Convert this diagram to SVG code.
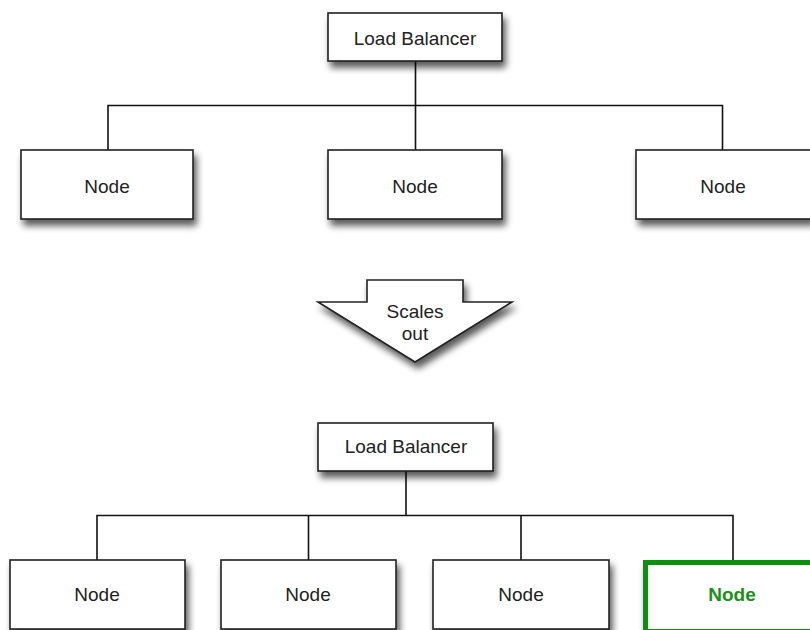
<svg xmlns="http://www.w3.org/2000/svg" width="810" height="630" viewBox="0 0 810 630">
<defs>
<filter id="sh" x="-20%" y="-20%" width="150%" height="170%">
<feGaussianBlur in="SourceAlpha" stdDeviation="3.5"/>
<feOffset dx="3" dy="6" result="b"/>
<feComponentTransfer><feFuncA type="linear" slope="0.65"/></feComponentTransfer>
<feMerge><feMergeNode/><feMergeNode in="SourceGraphic"/></feMerge>
</filter>
<style>
.box{fill:#fff;stroke:#222;stroke-width:1.6;filter:url(#sh)}
.gbox{fill:#fff;stroke:#0a8f0a;stroke-width:5;filter:url(#sh)}
.lbl{font-family:"Liberation Sans",Arial,sans-serif;font-size:19px;fill:#222;text-anchor:middle}
.glbl{font-family:"Liberation Sans",Arial,sans-serif;font-size:19px;font-weight:bold;fill:#1a8f1a;text-anchor:middle}
.ln{fill:none;stroke:#111;stroke-width:1.6}
</style>
</defs>
<rect width="810" height="630" fill="#fff"/>
<g id="connectors">
<path class="ln" d="M415.5 61V105.5M108 150V105.5H722.5V150M415.5 105.5V150"/>
<path class="ln" d="M406 471V515.5M97 560V515.5H733V560M308.5 515.5V560M521 515.5V560"/>
</g>
<g id="lb-top"><rect class="box" x="328" y="13" width="174" height="48"/><text class="lbl" x="415" y="45">Load Balancer</text></g>
<g id="node-top-1"><rect class="box" x="21" y="150" width="172" height="69"/><text class="lbl" x="107" y="193">Node</text></g>
<g id="node-top-2"><rect class="box" x="328" y="150" width="174" height="69"/><text class="lbl" x="415" y="193">Node</text></g>
<g id="node-top-3"><rect class="box" x="636" y="150" width="176" height="69"/><text class="lbl" x="723" y="193">Node</text></g>
<g id="scales-out"><polygon class="box" points="367,280 463,280 463,302 512,302 415,362 318,302 367,302"/><text class="lbl" x="415" y="318">Scales</text><text class="lbl" x="415" y="340">out</text></g>
<g id="lb-bottom"><rect class="box" x="318" y="423" width="175" height="48"/><text class="lbl" x="406" y="453">Load Balancer</text></g>
<g id="node-bot-1"><rect class="box" x="10" y="560" width="175" height="69"/><text class="lbl" x="97" y="601">Node</text></g>
<g id="node-bot-2"><rect class="box" x="221" y="560" width="175" height="69"/><text class="lbl" x="308" y="601">Node</text></g>
<g id="node-bot-3"><rect class="box" x="433" y="560" width="176" height="69"/><text class="lbl" x="521" y="601">Node</text></g>
<g id="node-bot-4"><rect class="gbox" x="645.5" y="562.5" width="175" height="69"/><text class="glbl" x="732" y="601">Node</text></g>
</svg>
